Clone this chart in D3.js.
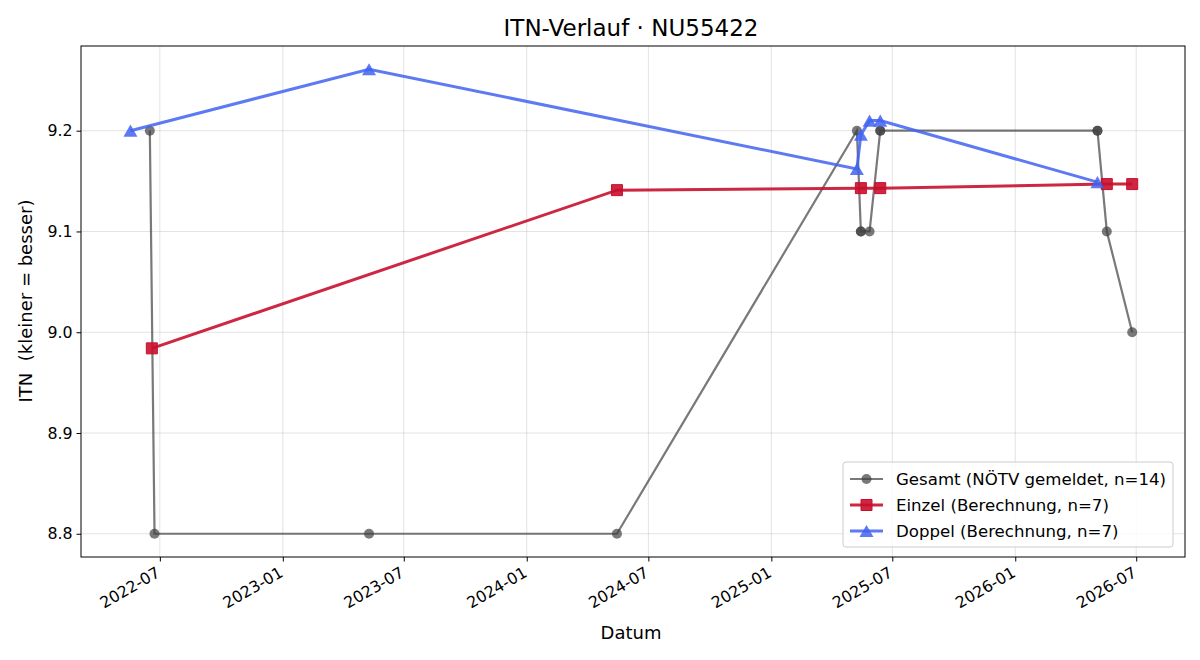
<!DOCTYPE html>
<html><head><meta charset="utf-8">
<script src="https://cdn.jsdelivr.net/npm/d3@7"></script>
<style>body{margin:0;background:#fff;} text{font-family:"DejaVu Sans",sans-serif;}</style>
</head><body>
<svg id="c" width="1200" height="660"></svg>
<script>
const gesamtDates = ["2022-06-16","2022-06-23","2023-05-10","2024-05-15","2025-05-09","2025-05-15","2025-05-15","2025-05-28","2025-06-13","2025-06-13","2026-05-04","2026-05-04","2026-05-18","2026-06-25"];
const gesamtValues = [9.2,8.8,8.8,8.8,9.2,9.1,9.1,9.1,9.2,9.2,9.2,9.2,9.1,9.0];
const einzelDates = ["2022-06-19","2024-05-15","2025-05-15","2025-06-13","2026-05-18","2026-06-25"];
const einzelValues = [8.984,9.141,9.143,9.143,9.147,9.147];
const doppelDates = ["2022-05-18","2023-05-10","2025-05-09","2025-05-15","2025-05-28","2025-06-13","2026-05-04"];
const doppelValues = [9.2,9.261,9.162,9.196,9.21,9.21,9.149];
const xDomain = ["2022-03-05","2026-09-12"];
const yTicks = [8.8,8.9,9.0,9.1,9.2];
const xTickDates = ["2022-07-01","2023-01-01","2023-07-01","2024-01-01","2024-07-01","2025-01-01","2025-07-01","2026-01-01","2026-07-01"];
const legendLabels = ["Gesamt (NÖTV gemeldet, n=14)","Einzel (Berechnung, n=7)","Doppel (Berechnung, n=7)"];

const P = d3.timeParse("%Y-%m-%d");
const mk = (ds, vs) => ds.map((d,i)=>({x:P(d), y:vs[i]}));
const gesamt = mk(gesamtDates, gesamtValues);
const einzel = mk(einzelDates, einzelValues);
const doppel = mk(doppelDates, doppelValues);
const all = gesamt.concat(einzel, doppel);

const L=81, R=1185, T=46, B=557;
const ye = d3.extent(all, d=>d.y);
const yp = (ye[1]-ye[0])*0.05;
const x = d3.scaleTime().domain(xDomain.map(P)).range([L,R]);
const y = d3.scaleLinear().domain([ye[0]-yp, ye[1]+yp]).range([B,T]);

const svg = d3.select("#c");
// grid
const g = svg.append("g");
xTickDates.forEach(d=>{ const xx=x(P(d)); g.append("line").attr("x1",xx).attr("x2",xx).attr("y1",T).attr("y2",B).attr("stroke","#b0b0b0").attr("stroke-opacity",0.35).attr("stroke-width",1);});
yTicks.forEach(v=>{ const yy=y(v); g.append("line").attr("x1",L).attr("x2",R).attr("y1",yy).attr("y2",yy).attr("stroke","#b0b0b0").attr("stroke-opacity",0.35).attr("stroke-width",1);});

// axes
const xAxis = d3.axisBottom(x).tickValues(xTickDates.map(P)).tickFormat(d3.timeFormat("%Y-%m")).tickSize(4.5).tickPadding(3);
const xg = svg.append("g").attr("transform",`translate(0,${B})`).call(xAxis);
xg.select(".domain").remove();
xg.selectAll("line").attr("stroke","#000").attr("stroke-width",1);
xg.selectAll("text").attr("font-size",15.8).attr("fill","#000")
  .attr("text-anchor","end").attr("y",0).attr("dy","0.75em")
  .attr("transform","translate(-5,8.5) rotate(-30)");
const yAxis = d3.axisLeft(y).tickValues(yTicks).tickFormat(d3.format(".1f")).tickSize(4.5).tickPadding(4);
const yg = svg.append("g").attr("transform",`translate(${L},0)`).call(yAxis);
yg.select(".domain").remove();
yg.selectAll("line").attr("stroke","#000").attr("stroke-width",1);
yg.selectAll("text").attr("font-size",15.8).attr("fill","#000");
svg.append("rect").attr("x",L).attr("y",T).attr("width",R-L).attr("height",B-T).attr("fill","none").attr("stroke","#000").attr("stroke-width",1);

const line = d3.line().x(d=>x(d.x)).y(d=>y(d.y));
const cG="#404040", cE="#c8102e", cD="#4163f0";
// Gesamt
svg.append("path").datum(gesamt).attr("d",line).attr("fill","none").attr("stroke",cG).attr("stroke-opacity",0.7).attr("stroke-width",2.2);
svg.append("g").selectAll("circle").data(gesamt).join("circle").attr("cx",d=>x(d.x)).attr("cy",d=>y(d.y)).attr("r",5).attr("fill",cG).attr("fill-opacity",0.7);
// Einzel
svg.append("path").datum(einzel).attr("d",line).attr("fill","none").attr("stroke",cE).attr("stroke-opacity",0.9).attr("stroke-width",3);
const sq = d3.symbol().type(d3.symbolSquare).size(121);
svg.append("g").selectAll("path").data(einzel).join("path").attr("d",sq).attr("transform",d=>`translate(${x(d.x)},${y(d.y)})`).attr("fill",cE).attr("fill-opacity",0.9).attr("stroke",cE).attr("stroke-width",1);
// Doppel
svg.append("path").datum(doppel).attr("d",line).attr("fill","none").attr("stroke",cD).attr("stroke-opacity",0.85).attr("stroke-width",3);
const tri = d3.symbol().type(d3.symbolTriangle).size(85);
svg.append("g").selectAll("path").data(doppel).join("path").attr("d",tri).attr("transform",d=>`translate(${x(d.x)},${y(d.y)+2})`).attr("fill",cD).attr("fill-opacity",0.85);

// titles
svg.append("text").attr("x",631).attr("y",36).attr("text-anchor","middle").attr("font-size",23).text("ITN-Verlauf · NU55422");
svg.append("text").attr("x",631).attr("y",639).attr("text-anchor","middle").attr("font-size",18).text("Datum");
svg.append("text").attr("transform","translate(32,301) rotate(-90)").attr("text-anchor","middle").attr("font-size",18).attr("xml:space","preserve").text("ITN  (kleiner = besser)");

// legend
const lg = svg.append("g");
lg.append("rect").attr("x",843).attr("y",462).attr("width",330).attr("height",85).attr("rx",3).attr("fill","#fff").attr("fill-opacity",0.8).attr("stroke","#ccc").attr("stroke-width",1);
const cols=[cG,cE,cD], ops=[0.7,0.9,0.85], wids=[2.2,3,3];
legendLabels.forEach((t,i)=>{
  const yy=479+i*26;
  lg.append("line").attr("x1",850).attr("x2",883).attr("y1",yy).attr("y2",yy).attr("stroke",cols[i]).attr("stroke-opacity",ops[i]).attr("stroke-width",wids[i]);
  let m;
  if(i===0) m=lg.append("circle").attr("cx",866.5).attr("cy",yy).attr("r",5);
  else if(i===1) m=lg.append("path").attr("d",sq).attr("transform",`translate(866.5,${yy})`).attr("stroke",cE).attr("stroke-width",1);
  else m=lg.append("path").attr("d",tri).attr("transform",`translate(866.5,${yy+2})`);
  m.attr("fill",cols[i]).attr("fill-opacity",ops[i]);
  lg.append("text").attr("x",896).attr("y",yy+6).attr("font-size",16.6).text(t);
});
</script>
</body></html>
